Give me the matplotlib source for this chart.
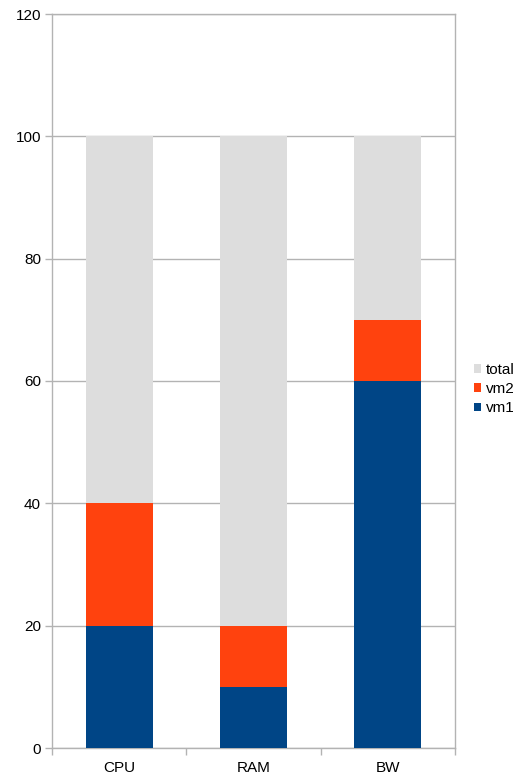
import matplotlib.pyplot as plt
import numpy as np

categories = ["CPU", "RAM", "BW"]
vm1 = [20, 10, 60]
vm2 = [20, 10, 10]
total = [60, 80, 30]

plt.rcParams['font.family'] = ['Liberation Sans', 'DejaVu Sans']

fig = plt.figure(figsize=(5.21, 7.76), dpi=100)
ax = fig.add_axes([52 / 521, 28 / 776, (455 - 52) / 521, (748 - 14) / 776])

x = np.arange(len(categories))
w = 0.5
ax.bar(x, vm1, w, color='#004586', label='vm1', zorder=3)
ax.bar(x, vm2, w, bottom=vm1, color='#ff420e', label='vm2', zorder=3)
ax.bar(x, total, w, bottom=np.array(vm1) + np.array(vm2), color='#dddddd',
       label='total', zorder=3)

ax.set_xlim(-0.5, 2.5)
ax.set_ylim(0, 120)
ax.set_yticks(range(0, 121, 20))
ax.yaxis.grid(True, color='#b3b3b3', linewidth=1, zorder=0)

ax.set_xticks(x)
ax.set_xticklabels(categories)
ax.set_xticks([-0.5, 0.5, 1.5, 2.5], minor=True)
ax.tick_params(axis='x', which='major', length=0, pad=9, labelsize=11)
ax.tick_params(axis='x', which='minor', length=5, color='#b3b3b3', width=1)
ax.tick_params(axis='y', length=5, color='#b3b3b3', width=1, pad=3, labelsize=11)

for s in ax.spines.values():
    s.set_color('#b3b3b3')
    s.set_linewidth(1)

handles, labels = ax.get_legend_handles_labels()
fig.legend(handles[::-1], labels[::-1], loc='center left',
           bbox_to_anchor=(460 / 521, 1 - 389 / 776), frameon=False,
           fontsize=11, handlelength=0.5, handleheight=0.5,
           handletextpad=0.3, labelspacing=0.35)

fig.savefig('out.png', dpi=100)
